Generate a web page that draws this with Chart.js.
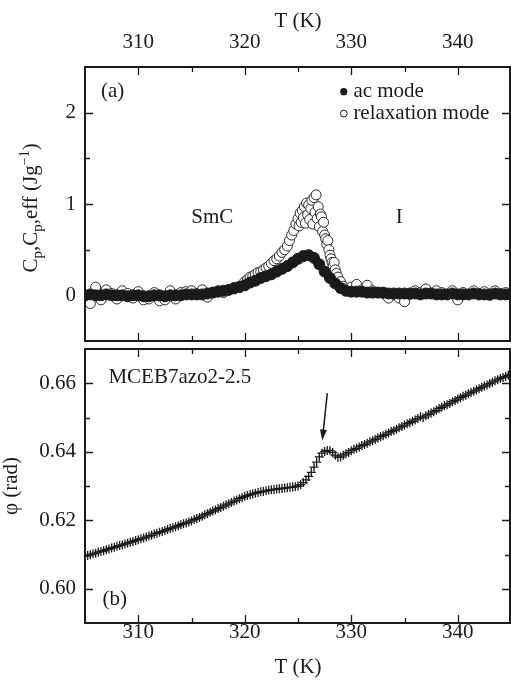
<!DOCTYPE html>
<html>
<head>
<meta charset="utf-8">
<script src="https://cdn.jsdelivr.net/npm/chart.js@4.4.0/dist/chart.umd.min.js"></script>
<style>
  html, body { margin: 0; padding: 0; background: #fff; overflow: hidden; }
  #top { position: absolute; left: 0; top: 0; }
  #bottom { position: absolute; left: 0; top: 345px; }
</style>
</head>
<body>
<canvas id="top" width="511" height="345"></canvas>
<canvas id="bottom" width="511" height="336"></canvas>
<script>
// axis ticks
const tempTicks = [310, 320, 330, 340];
const tempMinor = [315, 325, 335];
const cpTicks = [0, 1, 2];
const cpMinor = [0.5, 1.5];
const phiTicks = [0.60, 0.62, 0.64, 0.66];
const phiMinor = [0.61, 0.63, 0.65];

// (a) ac mode, Cp (J/g)
const acTemp = [305,305.5,306,306.5,307,307.5,308,308.5,309,309.5,
  310,310.5,311,311.5,312,312.5,313,313.5,314,314.5,
  315,315.5,316,316.5,317,317.5,318,318.5,319,319.5,
  320,320.5,321,321.5,322,322.5,323,323.5,324,324.5,
  325,325.5,326,326.5,327,327.5,328,328.5,329,329.5,
  330,330.5,331,331.5,332,332.5,333,333.5,334,334.5,
  335,335.5,336,336.5,337,337.5,338,338.5,339,339.5,
  340,340.5,341,341.5,342,342.5,343,343.5,344,344.5,345];
const acCp = [0.00,0.01,0.00,0.00,0.01,0.00,0.00,0.00,-0.01,0.00,
  0.00,-0.01,-0.01,0.00,0.00,-0.01,0.00,0.00,0.00,0.01,
  0.01,0.01,0.01,0.02,0.03,0.04,0.05,0.06,0.08,0.09,
  0.11,0.14,0.16,0.19,0.21,0.23,0.26,0.29,0.32,0.36,
  0.40,0.43,0.44,0.41,0.34,0.26,0.19,0.13,0.08,0.05,
  0.04,0.04,0.04,0.03,0.03,0.03,0.03,0.02,0.02,0.02,
  0.02,0.02,0.02,0.01,0.02,0.02,0.01,0.01,0.01,0.02,
  0.01,0.01,0.01,0.02,0.01,0.01,0.01,0.02,0.01,0.01,0.01];

// (a) relaxation mode, Cp,eff (J/g)
const relaxTemp = [305,305.5,306,306.5,307,307.5,308,308.5,309,309.5,
  310,310.5,311,311.5,312,312.5,313,313.5,314,314.5,
  315,315.5,316,316.5,317,317.5,318,318.5,319,319.5,
  320,320.25,320.5,320.75,321,321.25,321.5,321.75,322,322.25,322.5,322.75,
  323,323.25,323.5,323.75,324,324.2,324.4,324.6,324.8,
  325,325.1,325.2,325.3,325.4,325.5,325.6,325.7,325.8,325.9,
  326,326.1,326.2,326.3,326.4,326.5,326.6,326.7,326.8,326.9,
  327,327.1,327.2,327.3,327.4,327.5,327.6,327.7,327.8,327.9,
  328,328.1,328.2,328.3,328.4,328.5,328.6,328.75,329,329.25,329.5,
  330,330.5,331,331.5,332,332.5,333,333.5,334,334.5,
  335,335.5,336,336.5,337,337.5,338,338.5,339,339.5,
  340,340.5,341,341.5,342,342.5,343,343.5,344,344.5,345];
const relaxCp = [-0.04,-0.09,0.09,-0.05,0.06,0.02,-0.04,0.05,0.02,-0.03,
  0.04,-0.05,-0.04,0.03,-0.06,-0.05,0.05,-0.04,0.03,0.04,
  0.05,0.02,0.06,-0.02,0.03,0.05,0.03,0.06,0.07,0.10,
  0.15,0.17,0.20,0.21,0.23,0.25,0.26,0.28,0.30,0.32,0.35,0.38,
  0.40,0.43,0.47,0.50,0.54,0.60,0.66,0.71,0.78,
  0.84,0.76,0.90,0.80,0.93,0.85,0.97,0.79,1.01,0.88,
  0.99,0.83,0.95,1.04,0.78,1.07,0.91,1.10,0.84,0.97,
  0.75,0.89,0.86,0.70,0.80,0.66,0.62,0.56,0.60,0.50,
  0.44,0.40,0.36,0.32,0.36,0.28,0.24,0.20,0.15,0.10,0.07,
  0.09,0.12,0.06,0.11,0.05,0.03,0.02,-0.03,0.01,-0.03,
  -0.07,0.01,0.05,0.03,0.07,0.02,0.05,0.03,0.01,0.05,
  -0.05,0.03,0.01,0.05,0.02,0.04,0.00,0.05,0.02,0.03,0.01];

// (b) phase angle (rad)
const phiTemp = [305,305.25,305.5,305.75,306,306.25,306.5,306.75,307,307.25,307.5,307.75,
  308,308.25,308.5,308.75,309,309.25,309.5,309.75,310,310.25,310.5,310.75,
  311,311.25,311.5,311.75,312,312.25,312.5,312.75,313,313.25,313.5,313.75,
  314,314.25,314.5,314.75,315,315.25,315.5,315.75,316,316.25,316.5,316.75,
  317,317.25,317.5,317.75,318,318.25,318.5,318.75,319,319.25,319.5,319.75,
  320,320.25,320.5,320.75,321,321.25,321.5,321.75,322,322.25,322.5,322.75,
  323,323.25,323.5,323.75,324,324.25,324.5,324.75,325,325.25,325.5,325.75,
  326,326.25,326.5,326.75,327,327.25,327.5,327.75,328,328.25,328.5,328.75,
  329,329.25,329.5,329.75,330,330.25,330.5,330.75,331,331.25,331.5,331.75,
  332,332.25,332.5,332.75,333,333.25,333.5,333.75,334,334.25,334.5,334.75,
  335,335.25,335.5,335.75,336,336.25,336.5,336.75,337,337.25,337.5,337.75,
  338,338.25,338.5,338.75,339,339.25,339.5,339.75,340,340.25,340.5,340.75,
  341,341.25,341.5,341.75,342,342.25,342.5,342.75,343,343.25,343.5,343.75,
  344,344.25,344.5,344.75,345];
const phiVal = [0.6095,0.6097,0.6099,0.6102,0.6104,0.6107,0.6109,0.6111,0.6114,0.6116,0.6119,0.6121,
  0.6124,0.6126,0.6128,0.6131,0.6133,0.6136,0.6138,0.6141,0.6143,0.6146,0.6148,0.6151,
  0.6154,0.6156,0.6160,0.6162,0.6165,0.6167,0.6170,0.6173,0.6176,0.6178,0.6181,0.6184,
  0.6187,0.6190,0.6192,0.6195,0.6198,0.6202,0.6205,0.6208,0.6212,0.6216,0.6219,0.6223,
  0.6227,0.6230,0.6234,0.6237,0.6241,0.6245,0.6248,0.6252,0.6256,0.6259,0.6263,0.6266,
  0.6270,0.6272,0.6275,0.6277,0.6279,0.6281,0.6283,0.6284,0.6286,0.6288,0.6289,0.6290,
  0.6291,0.6292,0.6293,0.6294,0.6295,0.6296,0.6297,0.6298,0.6300,0.6304,0.6310,0.6318,
  0.6328,0.6340,0.6355,0.6370,0.6385,0.6396,0.6401,0.6404,0.6403,0.6398,0.6390,0.6384,
  0.6385,0.6390,0.6394,0.6398,0.6403,0.6407,0.6410,0.6414,0.6418,0.6421,0.6425,0.6429,
  0.6432,0.6436,0.6440,0.6444,0.6447,0.6451,0.6455,0.6459,0.6462,0.6466,0.6470,0.6474,
  0.6478,0.6482,0.6485,0.6489,0.6493,0.6497,0.6502,0.6499,0.6505,0.6509,0.6513,0.6517,
  0.6521,0.6526,0.6530,0.6534,0.6537,0.6541,0.6546,0.6550,0.6554,0.6558,0.6562,0.6565,
  0.6569,0.6573,0.6577,0.6580,0.6584,0.6588,0.6592,0.6595,0.6599,0.6603,0.6607,0.6610,
  0.6614,0.6617,0.6620,0.6623,0.6626];

const ink = '#1a1a1a';
const serif = '"Liberation Serif", "Times New Roman", serif';

function pts(xs, ys) { return xs.map((t, i) => ({ x: t, y: ys[i] })); }

// box + inward ticks on all four sides
function drawFrame(chart, yMajor, yMinor) {
  const { ctx, chartArea: a, scales: { x, y } } = chart;
  ctx.save();
  ctx.strokeStyle = ink;
  ctx.lineWidth = 2;
  ctx.strokeRect(a.left, a.top, a.right - a.left - 1, a.bottom - a.top);
  ctx.lineWidth = 1.3;
  ctx.beginPath();
  const xt = (vals, len) => vals.forEach(v => {
    const p = Math.round(x.getPixelForValue(v)) + 0.5;
    ctx.moveTo(p, a.top); ctx.lineTo(p, a.top + len);
    ctx.moveTo(p, a.bottom); ctx.lineTo(p, a.bottom - len);
  });
  const yt = (vals, len) => vals.forEach(v => {
    const p = Math.round(y.getPixelForValue(v)) + 0.5;
    ctx.moveTo(a.left, p); ctx.lineTo(a.left + len, p);
    ctx.moveTo(a.right - 1, p); ctx.lineTo(a.right - 1 - len, p);
  });
  xt(tempTicks, 8); xt(tempMinor, 5);
  yt(yMajor, 8); yt(yMinor, 5);
  ctx.stroke();
  ctx.restore();
}

function label(ctx, text, px, py, align, size) {
  ctx.font = (size || 21) + 'px ' + serif;
  ctx.fillStyle = ink;
  ctx.textAlign = align || 'left';
  ctx.textBaseline = 'middle';
  ctx.fillText(text, px, py);
}

// rotated text made of pieces: [text, size, shift]
function richVertical(ctx, parts, cx, cy) {
  ctx.save();
  ctx.translate(cx, cy);
  ctx.rotate(-Math.PI / 2);
  ctx.fillStyle = ink;
  ctx.textBaseline = 'alphabetic';
  ctx.textAlign = 'left';
  let w = 0;
  parts.forEach(p => { ctx.font = p[1] + 'px ' + serif; w += ctx.measureText(p[0]).width; });
  let xx = -w / 2;
  parts.forEach(p => {
    ctx.font = p[1] + 'px ' + serif;
    ctx.fillText(p[0], xx, p[2]);
    xx += ctx.measureText(p[0]).width;
  });
  ctx.restore();
}

function noPad(s) { s.paddingTop = 0; s.paddingBottom = 0; s.paddingLeft = 0; s.paddingRight = 0; }

function xScale(pos, pad, h) {
  return {
    type: 'linear', position: pos, min: 305, max: 345,
    grid: { display: false, drawTicks: false }, border: { display: false },
    afterBuildTicks: s => { s.ticks = tempTicks.map(v => ({ value: v })); },
    afterFit: s => { s.height = h; noPad(s); },
    ticks: { font: { family: serif, size: 21 }, color: ink, padding: pad, autoSkip: false, maxRotation: 0 }
  };
}

function yScale(min, max, major, digits) {
  return {
    type: 'linear', min: min, max: max,
    grid: { display: false, drawTicks: false }, border: { display: false },
    afterBuildTicks: s => { s.ticks = major.map(v => ({ value: v })); },
    afterFit: s => { s.width = 85; noPad(s); },
    ticks: { font: { family: serif, size: 21 }, color: ink, padding: 9, autoSkip: false,
             callback: v => v.toFixed(digits) }
  };
}

const common = {
  responsive: false, animation: false,
  plugins: { legend: { display: false }, tooltip: { enabled: false } }
};

new Chart(document.getElementById('top'), {
  type: 'scatter',
  data: {
    datasets: [
      { label: 'ac mode', data: pts(acTemp, acCp), order: 0, clip: 0,
        pointRadius: 5.5, pointBackgroundColor: ink, pointBorderColor: ink, pointBorderWidth: 1 },
      { label: 'relaxation mode', data: pts(relaxTemp, relaxCp), order: 1, clip: 0,
        pointRadius: 5, pointBackgroundColor: '#fff', pointBorderColor: '#2a2a2a', pointBorderWidth: 1 }
    ]
  },
  options: Object.assign({}, common, {
    layout: { autoPadding: false, padding: { top: 0, bottom: 4, left: 0, right: 0 } },
    scales: { x: xScale('top', 12, 67), y: yScale(-0.5, 2.5, cpTicks, 0) }
  }),
  plugins: [{
    id: 'decorTop',
    afterDatasetsDraw(chart) {
      const { ctx, scales: { x, y } } = chart;
      drawFrame(chart, cpTicks, cpMinor);
      label(ctx, '(a)', x.getPixelForValue(306.5), y.getPixelForValue(2.23));
      label(ctx, 'SmC', x.getPixelForValue(316.95), y.getPixelForValue(0.85), 'center');
      label(ctx, 'I', x.getPixelForValue(334.5), y.getPixelForValue(0.85), 'center');
      // legend
      const lx = x.getPixelForValue(329.3);
      ctx.save();
      ctx.fillStyle = ink; ctx.strokeStyle = ink; ctx.lineWidth = 1;
      ctx.beginPath(); ctx.arc(lx, y.getPixelForValue(2.23), 3.6, 0, Math.PI * 2); ctx.fill();
      ctx.beginPath(); ctx.arc(lx, y.getPixelForValue(1.99), 3.4, 0, Math.PI * 2);
      ctx.fillStyle = '#fff'; ctx.fill(); ctx.stroke();
      ctx.restore();
      label(ctx, 'ac mode', x.getPixelForValue(330.2), y.getPixelForValue(2.23));
      label(ctx, 'relaxation mode', x.getPixelForValue(330.2), y.getPixelForValue(1.99));
      // axis titles
      label(ctx, 'T (K)', (chart.chartArea.left + chart.chartArea.right) / 2, 21, 'center');
      richVertical(ctx, [['C', 21, 0], ['p', 15, 5], [',', 21, 0], ['C', 21, 0], ['p', 15, 5],
        [',eff (Jg', 21, 0], ['\u22121', 14, -8], [')', 21, 0]], 37, 208);
    }
  }]
});

new Chart(document.getElementById('bottom'), {
  type: 'scatter',
  data: {
    datasets: [
      { label: 'phi', data: pts(phiTemp, phiVal), clip: 0,
        pointStyle: 'cross', pointRadius: 4.5, pointBorderColor: ink, pointBorderWidth: 1.3 }
    ]
  },
  options: Object.assign({}, common, {
    layout: { autoPadding: false, padding: { top: 4, bottom: 0, left: 0, right: 0 } },
    scales: { x: xScale('bottom', -3, 58), y: yScale(0.59, 0.67, phiTicks, 2) }
  }),
  plugins: [{
    id: 'decorBottom',
    afterDatasetsDraw(chart) {
      const { ctx, scales: { x, y } } = chart;
      drawFrame(chart, phiTicks, phiMinor);
      label(ctx, 'MCEB7azo2-2.5', x.getPixelForValue(307.2), y.getPixelForValue(0.6618));
      label(ctx, '(b)', x.getPixelForValue(306.65), y.getPixelForValue(0.5969));
      // arrow
      const x0 = x.getPixelForValue(327.75), y0 = y.getPixelForValue(0.6571);
      const x1 = x.getPixelForValue(327.28), y1 = y.getPixelForValue(0.6433);
      const ang = Math.atan2(y1 - y0, x1 - x0);
      ctx.save();
      ctx.strokeStyle = ink; ctx.fillStyle = ink; ctx.lineWidth = 1.5;
      ctx.beginPath(); ctx.moveTo(x0, y0);
      ctx.lineTo(x1 - 8 * Math.cos(ang), y1 - 8 * Math.sin(ang)); ctx.stroke();
      ctx.beginPath(); ctx.moveTo(x1, y1);
      ctx.lineTo(x1 - 11 * Math.cos(ang) + 3.5 * Math.sin(ang), y1 - 11 * Math.sin(ang) - 3.5 * Math.cos(ang));
      ctx.lineTo(x1 - 11 * Math.cos(ang) - 3.5 * Math.sin(ang), y1 - 11 * Math.sin(ang) + 3.5 * Math.cos(ang));
      ctx.closePath(); ctx.fill();
      ctx.restore();
      // axis titles
      label(ctx, 'T (K)', (chart.chartArea.left + chart.chartArea.right) / 2, 322, 'center');
      richVertical(ctx, [['\u03c6 (rad)', 21, 0]], 17, 141);
    }
  }]
});
</script>
</body>
</html>
